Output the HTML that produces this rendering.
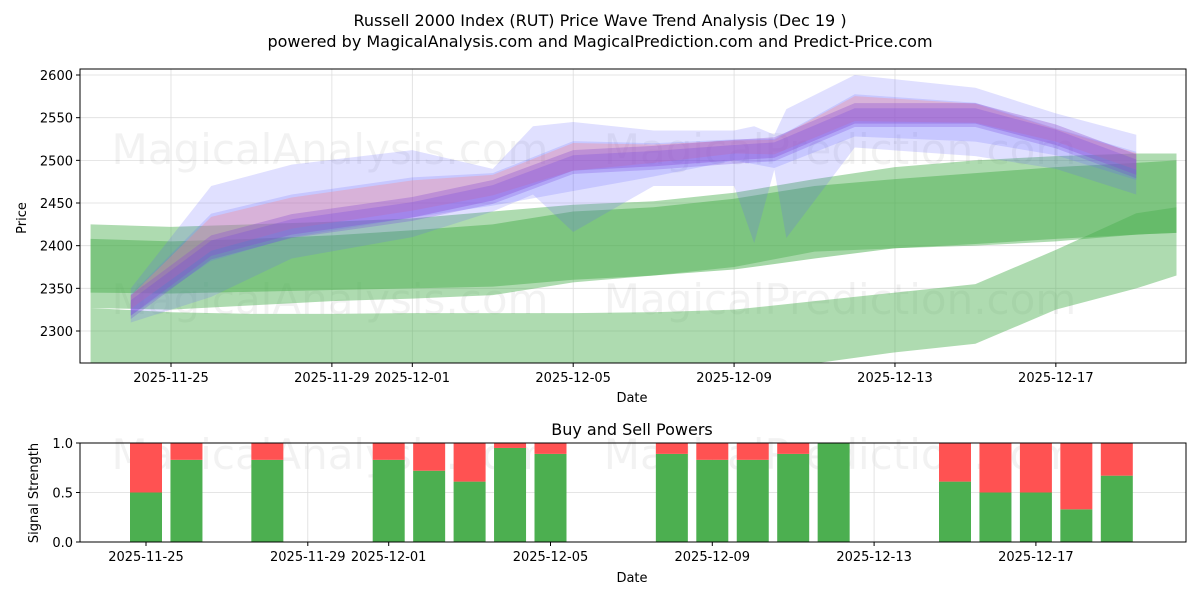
<!DOCTYPE html>
<html><head><meta charset="utf-8"><style>
body{margin:0;background:#fff;font-family:"Liberation Sans","DejaVu Sans",sans-serif}
svg text{font-family:"DejaVu Sans","Liberation Sans",sans-serif}
</style></head><body>
<svg id="c" width="1200" height="600" xmlns="http://www.w3.org/2000/svg">
<rect width="1200" height="600" fill="#fff"/>
<text x="600" y="26" text-anchor="middle" font-size="16">Russell 2000 Index (RUT) Price Wave Trend Analysis (Dec 19 )</text>
<text x="600" y="47" text-anchor="middle" font-size="16">powered by MagicalAnalysis.com and MagicalPrediction.com and Predict-Price.com</text>
<g id="topg"></g><g id="botg"></g>
</svg>
<script>
// data
const tickDays=[0,4,6,10,14,18,22];
const tickLabels=["2025-11-25","2025-11-29","2025-12-01","2025-12-05","2025-12-09","2025-12-13","2025-12-17"];
const priceTicks=[2300,2350,2400,2450,2500,2550,2600];
const waveDays=[-1,1,3,6,8,10,12,14,15,17,20,22,24];
const waveCenter=[2330,2400,2425,2445,2465,2500,2505,2512,2515,2555,2555,2530,2495];
const waveUp=[25,75,70,70,40,45,30,25,20,45,25,15,30];
const waveDn=[20,30,25,20,30,60,40,20,40,45,55,40,30];
const blueDays=[-1,1,3,6,8,9,10,12,14,14.5,15,15.3,17,20,22,24];
const blueUp=[2350,2470,2495,2512,2490,2540,2545,2535,2535,2540,2530,2560,2600,2585,2555,2530];
const blueLo=[2310,2340,2385,2410,2440,2460,2416,2470,2470,2403,2489,2409,2515,2505,2490,2460];
const greenDays=[-2,0,2,4,6,8,10,12,14,16,18,20,22,24,25];
const green1Up=[2408,2405,2408,2412,2418,2425,2440,2445,2455,2470,2478,2485,2492,2497,2500];
const green1Lo=[2345,2344,2346,2348,2350,2352,2360,2365,2372,2385,2397,2402,2408,2413,2415];
const green2Up=[2425,2422,2425,2428,2432,2440,2448,2452,2462,2478,2492,2500,2505,2508,2508];
const green2Lo=[2327,2325,2330,2335,2338,2342,2357,2365,2375,2393,2397,2400,2405,2413,2415];
const green3Up=[2327,2322,2320,2320,2321,2321,2321,2322,2325,2335,2345,2355,2395,2438,2445];
const green3Lo=[2200,2200,2200,2200,2200,2200,2200,2200,2220,2262,2275,2285,2325,2350,2365];
const barDays=[0,1,3,6,7,8,9,10,13,14,15,16,17,20,21,22,23,24];
const buyVals=[0.5,0.83,0.83,0.83,0.72,0.61,0.95,0.89,0.89,0.83,0.83,0.89,1.0,0.61,0.5,0.5,0.33,0.67];
const sigTicks=[0,0.5,1.0];

const NS="http://www.w3.org/2000/svg";
const X=d=>171+d*40.22;
const XB=d=>146+d*40.45;
const Y=v=>331-(v-2300)*0.8533;
const YB=v=>542-v*99;
const AXB=363;
function el(p,t,a){const e=document.createElementNS(NS,t);for(const k in a)e.setAttribute(k,a[k]);p.appendChild(e);return e;}
const topG=document.getElementById('topg'),botG=document.getElementById('botg');
const defs=el(topG,'defs',{});const cp=el(defs,'clipPath',{id:'cl'});el(cp,'rect',{x:80,y:69,width:1106,height:AXB-69});
tickDays.forEach(d=>{el(topG,'line',{x1:X(d),x2:X(d),y1:69,y2:AXB,stroke:'#ddd','stroke-width':0.8});el(botG,'line',{x1:XB(d),x2:XB(d),y1:443,y2:542,stroke:'#ddd','stroke-width':0.8});});
priceTicks.forEach(v=>el(topG,'line',{x1:80,x2:1186,y1:Y(v),y2:Y(v),stroke:'#ddd','stroke-width':0.8}));
sigTicks.forEach(v=>el(botG,'line',{x1:80,x2:1186,y1:YB(v),y2:YB(v),stroke:'#ddd','stroke-width':0.8}));
[[330,150,'MagicalAnalysis.com'],[840,150,'MagicalPrediction.com'],[330,300,'MagicalAnalysis.com'],[840,300,'MagicalPrediction.com'],[330,455,'MagicalAnalysis.com'],[840,455,'MagicalPrediction.com']].forEach(w=>{const t=el(topG,'text',{x:w[0],y:w[1]+14,'text-anchor':'middle','font-size':42,fill:'#000','fill-opacity':0.05});t.textContent=w[2];

});
const g=el(topG,'g',{'clip-path':'url(#cl)'});
function band(days,up,lo,col,op,name){let pts=days.map((d,i)=>X(d)+','+Y(up[i]));for(let i=days.length-1;i>=0;i--)pts.push(X(days[i])+','+Y(lo[i]));const p=el(g,'polygon',{points:pts.join(' '),fill:col,'fill-opacity':op});

}
band(greenDays,green3Up,green3Lo,'#4caf50',0.45,'green-band-low');
band(greenDays,green2Up,green2Lo,'#4caf50',0.45,'green-band-wide');
band(greenDays,green1Up,green1Lo,'#4caf50',0.5,'green-band-core');
band(blueDays,blueUp,blueLo,'#6666ff',0.2,'blue-band-wide');
band(waveDays,waveCenter.map((c,i)=>c+waveUp[i]*0.5),waveCenter.map((c,i)=>c-waveDn[i]*0.6),'#6666ff',0.2,'blue-band-mid');
band(waveDays,waveCenter.map((c,i)=>c+waveUp[i]*0.45),waveCenter.map((c,i)=>c-waveDn[i]*0.2),'#ff8080',0.3,'red-band');
band(waveDays,waveCenter.map((c,i)=>c+12),waveCenter.map((c,i)=>c-12),'#9050d0',0.35,'purple-band');
band(waveDays,waveCenter.map((c,i)=>c+6),waveCenter.map((c,i)=>c-16),'#7040e0',0.25,'purple-band-core');
el(topG,'rect',{x:80,y:69,width:1106,height:AXB-69,fill:'none',stroke:'#000','stroke-width':1});
barDays.forEach((d,i)=>{const x=XB(d)-16,b=buyVals[i];
const r1=el(botG,'rect',{x:x,y:YB(b),width:32,height:YB(0)-YB(b),fill:'#4caf50'});


const r2=el(botG,'rect',{x:x,y:YB(1),width:32,height:YB(b)-YB(1),fill:'#ff5252'});

});
el(botG,'rect',{x:80,y:443,width:1106,height:99,fill:'none',stroke:'#000','stroke-width':1});
tickDays.forEach((d,i)=>{[[AXB,topG,X(d)],[542,botG,XB(d)]].forEach(([yy,p,xx])=>{el(p,'line',{x1:xx,x2:xx,y1:yy,y2:yy+4,stroke:'#000'});const t=el(p,'text',{x:xx,y:yy+19,'text-anchor':'middle','font-size':13});t.textContent=tickLabels[i];

});});
priceTicks.forEach(v=>{el(topG,'line',{x1:76,x2:80,y1:Y(v),y2:Y(v),stroke:'#000'});const t=el(topG,'text',{x:73,y:Y(v)+5,'text-anchor':'end','font-size':13});t.textContent=v;

});
sigTicks.forEach(v=>{el(botG,'line',{x1:76,x2:80,y1:YB(v),y2:YB(v),stroke:'#000'});const t=el(botG,'text',{x:73,y:YB(v)+5,'text-anchor':'end','font-size':13});t.textContent=v.toFixed(1);

});
function lab(p,x,y,s,txt,name,rot){const t=el(p,'text',{x:x,y:y,'text-anchor':'middle','font-size':s});if(rot)t.setAttribute('transform','rotate(-90 '+x+' '+y+')');t.textContent=txt;

}
lab(topG,632,402,13,'Date','x-axis-title');
lab(topG,26,218,13,'Price','y-axis-title',true);
lab(botG,632,435,16,'Buy and Sell Powers','bottom-title');
lab(botG,632,582,13,'Date','bottom-x-axis-title');
lab(botG,38,493,13,'Signal Strength','bottom-y-axis-title',true);
</script>
</body></html>
